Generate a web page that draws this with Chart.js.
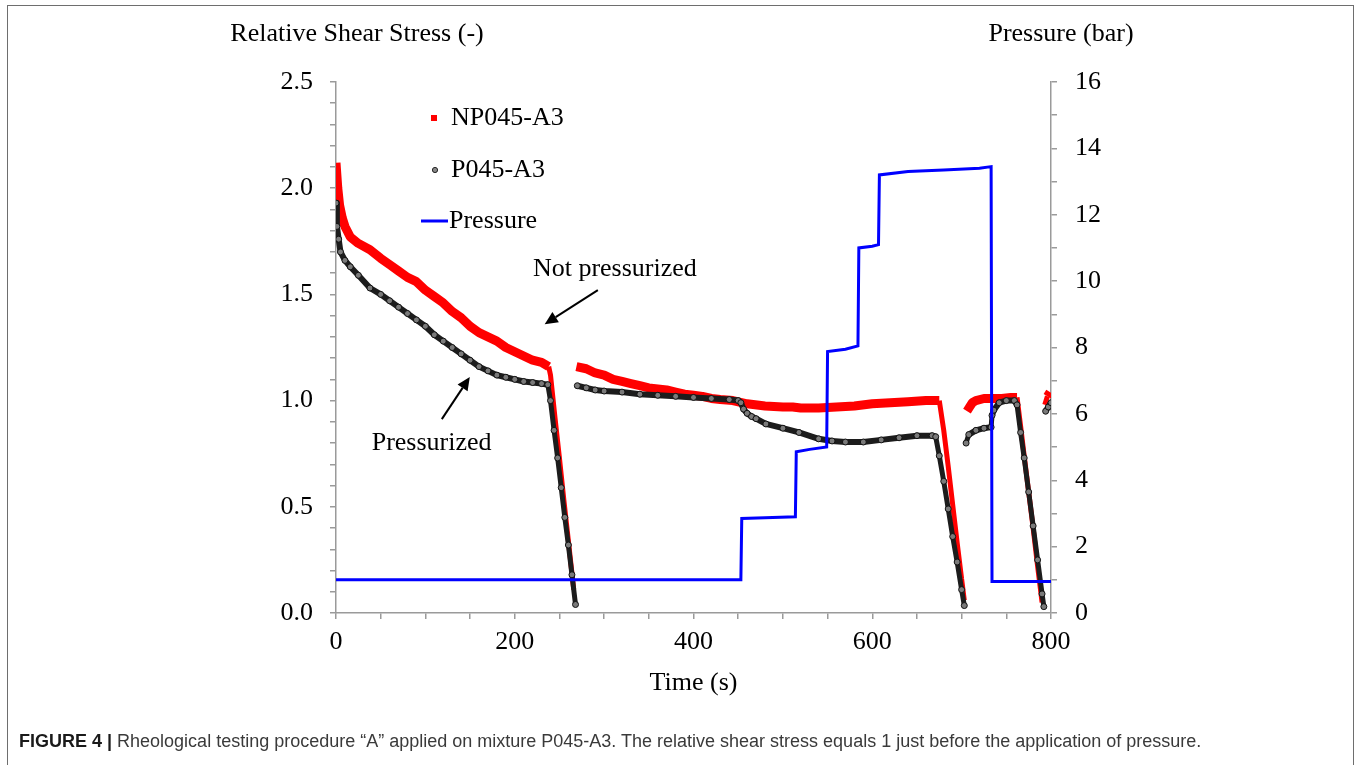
<!DOCTYPE html>
<html><head><meta charset="utf-8">
<script src="https://cdn.jsdelivr.net/npm/chart.js@4.4.0/dist/chart.umd.min.js"></script>
<style>
html,body{margin:0;padding:0;background:#fff;}
body{width:1360px;height:765px;position:relative;overflow:hidden;}
#frame{position:absolute;left:7px;top:5px;width:1347px;height:820px;border:1.5px solid #6e6e6e;box-sizing:border-box;}
#wrap{position:absolute;left:0;top:0;width:1360px;height:765px;}
#caption{position:absolute;left:19px;top:730px;line-height:22px;font-family:"Liberation Sans",Arial,sans-serif;font-size:18px;color:#3a3a3a;white-space:nowrap;}
#caption b{color:#1a1a1a;}
</style></head>
<body>
<div id="frame"></div>
<div id="wrap"><canvas id="c" width="1360" height="765"></canvas></div>
<div id="caption"><b>FIGURE 4 |</b> Rheological testing procedure “A” applied on mixture P045-A3. The relative shear stress equals 1 just before the application of pressure.</div>
<script>
// ---- data ----
const npTime = [0,2,4,7,10,16,25,38,50,60,70,80,90,100,110,120,130,140,150,160,170,180,190,200,210,220,230,238,
  240,245,250,255,260,266, 267,
  269,280,290,300,310,320,330,340,350,360,370,380,390,400,410,420,430,444,460,480,500,511,520,540,560,580,600,620,640,660,675,
  680,685,690,695,700,703, 704,
  706,709,712,716,725,735,745,755,762,
  766,770,775,780,785,790, 791,
  793,796,799];
const npValue = [2.12,2.00,1.92,1.86,1.82,1.77,1.74,1.71,1.67,1.64,1.61,1.58,1.56,1.52,1.49,1.46,1.42,1.39,1.35,1.32,1.30,1.28,1.25,1.23,1.21,1.19,1.18,1.16,
  1.12,0.92,0.73,0.53,0.34,0.11, null,
  1.16,1.15,1.13,1.12,1.10,1.09,1.08,1.07,1.06,1.055,1.05,1.04,1.03,1.025,1.02,1.01,1.005,1.00,0.985,0.975,0.97,0.97,0.965,0.965,0.97,0.975,0.985,0.99,0.995,1.00,1.00,
  0.86,0.69,0.51,0.33,0.16,0.06, null,
  0.95,0.97,0.99,1.00,1.01,1.01,1.01,1.015,1.015,
  0.88,0.74,0.57,0.40,0.22,0.05, null,
  0.98,1.02,1.04];

const pTime = [0,1,3,5,10,16,25,38,50,60,70,80,90,100,110,120,130,140,150,160,170,180,190,200,210,220,230,237,
  240,244,248,252,256,260,264,268, 269,
  270,280,290,300,320,340,360,380,400,420,440,450,453,456,460,465,470,481,500,518,540,555,570,590,610,630,650,667,671,
  675,680,685,690,695,700,703, 704,
  705,708,716,725,733,734,736,742,750,759,762,
  766,770,775,780,785,790,792, 793,
  794,797,800];
const pValue = [1.93,1.82,1.76,1.70,1.66,1.63,1.59,1.53,1.50,1.47,1.44,1.41,1.38,1.35,1.31,1.28,1.25,1.22,1.19,1.16,1.14,1.12,1.11,1.10,1.09,1.085,1.08,1.075,
  1.00,0.86,0.73,0.59,0.45,0.32,0.18,0.04, null,
  1.07,1.06,1.05,1.045,1.04,1.03,1.025,1.02,1.015,1.01,1.005,1.00,0.99,0.96,0.94,0.925,0.915,0.89,0.87,0.85,0.82,0.81,0.805,0.805,0.815,0.825,0.835,0.835,0.83,
  0.74,0.62,0.49,0.36,0.24,0.11,0.035, null,
  0.80,0.84,0.86,0.87,0.875,0.93,0.955,0.99,1.00,1.00,0.98,
  0.85,0.73,0.57,0.41,0.25,0.09,0.03, null,
  0.95,0.97,0.99];

const pressTime  = [0,100,200,300,400,453,454,480,514,515,530,549,550,570,584,585,600,607,608,640,680,720,733,734,760,800];
const pressValue = [1.0,1.0,1.0,1.0,1.0,1.0,2.85,2.87,2.9,4.86,4.93,5.0,7.88,7.95,8.05,11.0,11.05,11.1,13.2,13.3,13.35,13.4,13.45,0.95,0.95,0.95];

const seriesLabels = ['NP045-A3','P045-A3','Pressure'];
const xTickLabels = [0,200,400,600,800];
const yTickLabels = ['0.0','0.5','1.0','1.5','2.0','2.5'];
const y2TickLabels = [0,2,4,6,8,10,12,14,16];

const annotations = [
  {text:'Not pressurized', tx:312, ty:1.62, from:[293,1.52], to:[233.5,1.36]},
  {text:'Pressurized', tx:107, ty:0.80, from:[118.4,0.913], to:[149.7,1.111]}
];

const zip = (xs, ys) => xs.map((x,i)=>({x:x, y:ys[i]}));
const SERIF = '"Liberation Serif","Times New Roman",serif';
const steepWidth = (w) => (c) => {
  const a = c.p0, b = c.p1;
  if (a.parsed && a.parsed.x < 100) return undefined;
  return Math.abs(b.y - a.y) > 3 * Math.abs(b.x - a.x) ? w : undefined;
};

const figTexts = {
  id:'figTexts',
  afterDraw(chart){
    const ctx = chart.ctx;
    const xs = chart.scales.x, ys = chart.scales.y;
    ctx.save();
    ctx.fillStyle = '#000';
    ctx.font = '26px ' + SERIF;
    ctx.textBaseline = 'middle';
    ctx.textAlign = 'center';
    ctx.fillText('Relative Shear Stress (-)', 357, 34);
    ctx.fillText('Pressure (bar)', 1061, 34);
    annotations.forEach(a=>{
      ctx.fillStyle = '#000';
      ctx.fillText(a.text, xs.getPixelForValue(a.tx), ys.getPixelForValue(a.ty));
      const x1 = xs.getPixelForValue(a.from[0]), y1 = ys.getPixelForValue(a.from[1]);
      const x2 = xs.getPixelForValue(a.to[0]), y2 = ys.getPixelForValue(a.to[1]);
      const ang = Math.atan2(y2-y1, x2-x1);
      const hl = 13, hw = 6;
      const bx = x2 - hl*Math.cos(ang), by = y2 - hl*Math.sin(ang);
      ctx.strokeStyle = '#000'; ctx.lineWidth = 2;
      ctx.beginPath(); ctx.moveTo(x1,y1); ctx.lineTo(bx,by); ctx.stroke();
      ctx.beginPath();
      ctx.moveTo(x2,y2);
      ctx.lineTo(bx + hw*Math.sin(ang), by - hw*Math.cos(ang));
      ctx.lineTo(bx - hw*Math.sin(ang), by + hw*Math.cos(ang));
      ctx.closePath(); ctx.fill();
    });
    const ds = chart.data.datasets;
    const rows = [118,170,221];
    ctx.textAlign = 'left';
    ctx.fillStyle = ds[0].borderColor;
    ctx.fillRect(431,115,6,6);
    ctx.fillStyle = '#000';
    ctx.fillText(ds[0].label, 451, rows[0]);
    ctx.beginPath(); ctx.arc(435,rows[1],2.6,0,Math.PI*2);
    ctx.fillStyle = '#888'; ctx.fill();
    ctx.strokeStyle = '#222'; ctx.lineWidth = 1; ctx.stroke();
    ctx.fillStyle = '#000';
    ctx.fillText(ds[1].label, 451, rows[1]);
    ctx.strokeStyle = ds[2].borderColor; ctx.lineWidth = 3;
    ctx.beginPath(); ctx.moveTo(421,rows[2]); ctx.lineTo(448,rows[2]); ctx.stroke();
    ctx.fillStyle = '#000';
    ctx.fillText(ds[2].label, 449, rows[2]);
    ctx.restore();
  }
};

const axisGrid = {drawOnChartArea:false, drawTicks:true, tickLength:6, color:'#9a9a9a', lineWidth:1.5};
const axisBorder = {color:'#9a9a9a', width:1.5};
const tickFont = {family:SERIF, size:26};

new Chart(document.getElementById('c'), {
  type:'scatter',
  data:{
    datasets:[
      {label:seriesLabels[0], data:zip(npTime,npValue), yAxisID:'y', showLine:true, spanGaps:false,
       borderColor:'#ff0000', backgroundColor:'#ff0000', borderWidth:9, borderCapStyle:'butt', borderJoinStyle:'bevel',
       segment:{borderWidth:steepWidth(5)},
       pointRadius:0, pointStyle:'rect', order:2},
      {label:seriesLabels[1], data:zip(pTime,pValue), yAxisID:'y', showLine:true, spanGaps:false,
       borderColor:'#1c1c1c', backgroundColor:'#888888', borderWidth:6, borderJoinStyle:'round',
       segment:{borderWidth:steepWidth(5)},
       pointRadius:3, pointStyle:'circle', pointBackgroundColor:'#7a7a7a', pointBorderColor:'#111', pointBorderWidth:1, order:1},
      {label:seriesLabels[2], data:zip(pressTime,pressValue), yAxisID:'y2', showLine:true,
       borderColor:'#0000ff', backgroundColor:'#0000ff', borderWidth:3, pointRadius:0, order:0}
    ]
  },
  options:{
    responsive:false, animation:false, devicePixelRatio:1,
    layout:{padding:{top:82, left:0, right:0, bottom:52}},
    plugins:{legend:{display:false}, tooltip:{enabled:false}},
    elements:{line:{tension:0}},
    scales:{
      x:{type:'linear', min:0, max:800, position:'bottom',
         ticks:{stepSize:50, autoSkip:false, maxRotation:0, color:'#000', font:tickFont, padding:8,
                callback:(v)=> xTickLabels.includes(v) ? String(v) : ''},
         grid:axisGrid, border:axisBorder,
         title:{display:true, text:'Time (s)', color:'#000', font:{family:SERIF, size:26}, padding:{top:0,bottom:14}},
         afterFit:(s)=>{s.height = 100;}},
      y:{type:'linear', min:0, max:2.5, position:'left',
         ticks:{stepSize:0.1, autoSkip:false, color:'#000', font:tickFont, padding:17,
                callback:(v)=>{const l=v.toFixed(1); return (yTickLabels.includes(l) && Math.abs(v*2-Math.round(v*2))<1e-6) ? l : '';}},
         grid:axisGrid, border:axisBorder,
         afterFit:(s)=>{s.width = 336;}},
      y2:{type:'linear', min:0, max:16, position:'right',
         ticks:{stepSize:1, autoSkip:false, color:'#000', font:tickFont, padding:18,
                callback:(v)=> y2TickLabels.includes(v) ? String(v) : ''},
         grid:axisGrid, border:axisBorder,
         afterFit:(s)=>{s.width = 309;}}
    }
  },
  plugins:[figTexts]
});
</script>
</body></html>
